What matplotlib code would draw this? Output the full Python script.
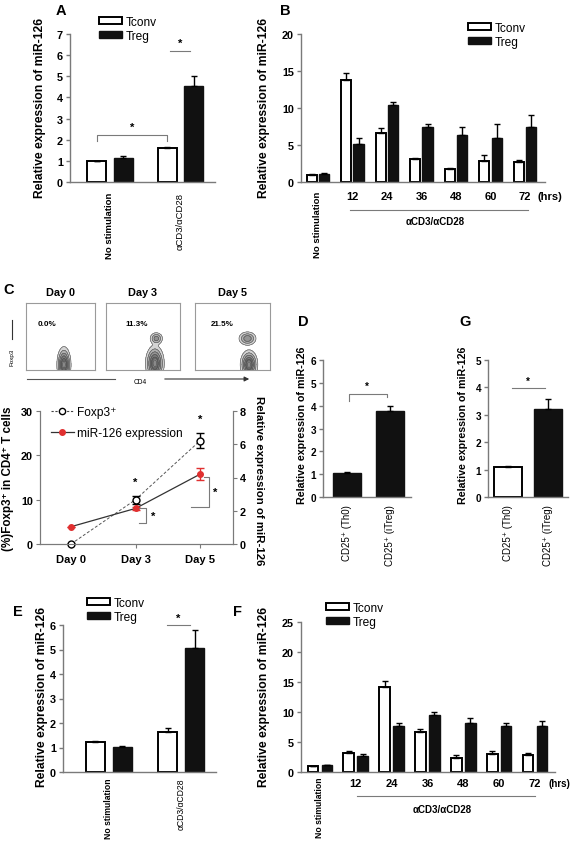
import numpy as np
import matplotlib
matplotlib.use('Agg')
import matplotlib.pyplot as plt
from matplotlib.patches import Patch, FancyArrowPatch
from matplotlib.lines import Line2D

plt.rcParams['font.family'] = ['Liberation Sans', 'DejaVu Sans']

# ---------------- data ----------------
a_groups = ['No stimulation', 'αCD3/αCD28']
a_tconv = [1.00, 1.60]
a_tconv_err = [0.0, 0.04]
a_treg = [1.15, 4.55]
a_treg_err = [0.08, 0.45]

b_hours = ['12', '24', '36', '48', '60', '72']
b_tconv = [1.0, 13.8, 6.6, 3.1, 1.7, 2.8, 2.7]
b_tconv_err = [0.05, 0.9, 0.65, 0.15, 0.15, 0.9, 0.3]
b_treg = [1.1, 5.2, 10.4, 7.5, 6.4, 6.0, 7.4]
b_treg_err = [0.05, 0.7, 0.45, 0.4, 1.1, 1.9, 1.7]

c_days = ['Day 0', 'Day 3', 'Day 5']
c_foxp3 = [0.0, 10.0, 23.3]
c_foxp3_err = [0.0, 0.9, 1.7]
c_mir = [1.04, 2.14, 4.2]
c_mir_err = [0.0, 0.1, 0.35]
c_flow_pct = ['0.0%', '11.3%', '21.5%']
# flow contour blobs: (x centre, y centre, sx, sy, amplitude) in box units
c_flow_blobs = [
    [(0.55, 0.08, 0.042, 0.11, 1.0)],
    [(0.66, 0.10, 0.052, 0.11, 1.0), (0.68, 0.47, 0.040, 0.042, 0.4)],
    [(0.72, 0.08, 0.048, 0.09, 1.0), (0.70, 0.47, 0.054, 0.047, 0.45)],
]

d_labels = ['CD25⁺ (Th0)', 'CD25⁺ (iTreg)']
d_values = [1.03, 3.75]
d_err = [0.05, 0.25]
g_values = [1.08, 3.2]
g_err = [0.06, 0.38]

e_tconv = [1.22, 1.63]
e_tconv_err = [0.04, 0.18]
e_treg = [1.02, 5.07]
e_treg_err = [0.03, 0.72]

f_tconv = [1.0, 3.2, 14.2, 6.6, 2.4, 3.05, 2.8]
f_tconv_err = [0.05, 0.25, 1.0, 0.6, 0.4, 0.45, 0.4]
f_treg = [1.1, 2.6, 7.7, 9.55, 8.15, 7.7, 7.6]
f_treg_err = [0.05, 0.4, 0.5, 0.45, 0.8, 0.45, 0.9]

YLABEL = 'Relative expression of miR-126'

# ---------------- figure ----------------
W, H = 574, 845
fig = plt.figure(figsize=(W / 100, H / 100), dpi=100)
GRAY = '#7a7a7a'
BLACK = '#111111'
TICK_FS = 7.8


def fx(x):
    return x / W


def fy(y):
    return 1 - y / H


def add_ax(x0, y0, x1, y1):
    return fig.add_axes([x0 / W, 1 - y1 / H, (x1 - x0) / W, (y1 - y0) / H])


def style(ax, ylim, yticks, fs=TICK_FS):
    ax.set_ylim(*ylim)
    ax.set_yticks(yticks, labels=[str(v) for v in yticks], fontweight='bold')
    for s in ['top', 'right']:
        ax.spines[s].set_visible(False)
    for s in ['left', 'bottom']:
        ax.spines[s].set_color(GRAY)
        ax.spines[s].set_linewidth(1.0)
    ax.tick_params(axis='y', length=3, width=1, color=GRAY, labelsize=fs, pad=2)
    ax.tick_params(axis='x', length=0)


def errbars(ax, x, v, e, color='black'):
    ax.errorbar(x, v, yerr=[np.zeros(len(v)), e], fmt='none', ecolor=color,
                elinewidth=1, capsize=2.5, capthick=1, zorder=3)


def pair_bars(ax, x, tc, tce, tr, tre, off, w):
    x = np.asarray(x, float)
    ax.bar(x - off, tc, w, color='white', edgecolor='black', lw=1.4, zorder=2)
    ax.bar(x + off, tr, w, color=BLACK, edgecolor=BLACK, lw=1.0, zorder=2)
    errbars(ax, x - off, tc, tce)
    errbars(ax, x + off, tr, tre)


def bar_legend(x, y):
    handles = [Patch(facecolor='white', edgecolor='black', lw=1.4),
               Patch(facecolor=BLACK, edgecolor=BLACK)]
    fig.legend(handles, ['Tconv', 'Treg'], loc='upper left',
               bbox_to_anchor=(fx(x), fy(y)), frameon=False, fontsize=8.6,
               handlelength=1.9, handleheight=0.5, labelspacing=0.15,
               handletextpad=0.3, borderpad=0, borderaxespad=0)


def ylab(x, y, s=YLABEL, size=8.7, rot=90):
    fig.text(fx(x), fy(y), s, rotation=rot, ha='center', va='center',
             fontweight='bold', fontsize=size)


def plabel(x, y, s):
    fig.text(fx(x), fy(y), s, ha='center', va='center', fontweight='bold', fontsize=10.5)


def bracket(ax, xs, ys):
    ax.plot(xs, ys, color=GRAY, lw=0.8, clip_on=False, zorder=4)


def star(ax, x, y, size=8):
    ax.text(x, y, '*', ha='center', va='center', fontsize=size, fontweight='bold')


# ---------------- Panel A ----------------
ax = add_ax(70, 35, 215, 183)
style(ax, (0, 7), list(range(8)))
ax.set_xlim(-0.567, 1.49)
pair_bars(ax, [0, 1], a_tconv, a_tconv_err, a_treg, a_treg_err, 0.19, 0.27)
ax.set_xticks([0, 1], labels=a_groups, rotation=90, fontsize=6.8, va='top')
ax.tick_params(axis='x', pad=7)
ax.get_xticklabels()[0].set_fontweight('bold')
bracket(ax, [-0.19, -0.19, 0.81, 0.81], [1.92, 2.23, 2.23, 1.92])
star(ax, 0.31, 2.6)
bracket(ax, [0.85, 1.13], [6.2, 6.2])
star(ax, 0.99, 6.6)
bar_legend(99, 17)
ylab(40, 108)
plabel(61, 11, 'A')


# ---------------- Panel B / F (time course) ----------------
def time_panel(box, ylim, yticks, xlim, off, w, tc, tce, tr, tre, y_tick, y_line,
               x_line, y_alpha, x_alpha, x_hrs, hrs_fs, y_nostim, nostim_fs):
    ax = add_ax(*box)
    style(ax, ylim, yticks)
    ax.set_xlim(*xlim)
    x = np.arange(len(tc))
    pair_bars(ax, x, tc, tce, tr, tre, off, w)
    ax.set_xticks([])
    tr_ = ax.get_xaxis_transform()
    for i, h in enumerate(b_hours):
        ax.text(i + 1, y_tick, h, transform=tr_, ha='center', va='center',
                fontweight='bold', fontsize=8)
    ax.text(x_hrs, y_tick, '(hrs)', transform=tr_, ha='left', va='center',
            fontweight='bold', fontsize=hrs_fs)
    ax.text(0, y_nostim, 'No stimulation', transform=tr_, ha='center', va='top',
            rotation=90, fontweight='bold', fontsize=nostim_fs)
    ax.plot(x_line, [y_line, y_line], transform=tr_, color=GRAY, lw=0.8, clip_on=False)
    ax.text(x_alpha, y_alpha, 'αCD3/αCD28', transform=tr_, ha='center', va='center',
            fontweight='bold', fontsize=7)
    return ax


time_panel((301, 35, 545, 183), (0, 20), [0, 5, 10, 15, 20], (-0.49, 6.58), 0.18, 0.30,
           b_tconv, b_tconv_err, b_treg, b_treg_err,
           -0.095, -0.19, [0.93, 6.09], -0.264, 3.39, 6.36, 8, -0.06, 6.8)
bar_legend(468, 23)
ylab(264, 108)
plabel(285, 11, 'B')

time_panel((301, 623, 555, 773), (0, 25), [0, 5, 10, 15, 20, 25], (-0.53, 6.56), 0.195, 0.30,
           f_tconv, f_tconv_err, f_treg, f_treg_err,
           -0.073, -0.16, [1.03, 6.0], -0.247, 3.4, 6.37, 7, -0.033, 6.2)
bar_legend(326, 603)
ylab(264, 697)
plabel(237, 612, 'F')

# ---------------- Panel E ----------------
ax = add_ax(63, 626, 216, 773)
style(ax, (0, 6), list(range(7)))
ax.set_xlim(-0.63, 1.48)
pair_bars(ax, [0, 1], e_tconv, e_tconv_err, e_treg, e_treg_err, 0.186, 0.26)
ax.set_xticks([0, 1], labels=a_groups, rotation=90, fontsize=6.2, va='top')
ax.tick_params(axis='x', pad=4)
ax.get_xticklabels()[0].set_fontweight('bold')
bracket(ax, [0.81, 1.12], [6.0, 6.0])
star(ax, 0.96, 6.3)
bar_legend(87, 598)
ylab(42, 697)
plabel(18, 612, 'E')

# ---------------- Panel D ----------------
ax = add_ax(323, 361, 411, 498)
style(ax, (0, 6), list(range(7)), fs=7.2)
ax.set_xlim(-0.56, 1.49)
ax.bar([0, 1], d_values, 0.65, color=BLACK, edgecolor=BLACK, zorder=2)
errbars(ax, [0, 1], d_values, d_err)
ax.set_xticks([0, 1], labels=d_labels, rotation=90, fontsize=7, va='top')
ax.tick_params(axis='x', pad=5)
bracket(ax, [0.05, 0.05, 0.93, 0.93], [4.2, 4.5, 4.5, 4.4])
star(ax, 0.47, 4.85, 7)
ylab(302, 425, size=7.7)
plabel(303, 322, 'D')

# ---------------- Panel G ----------------
ax = add_ax(488, 361, 568, 498)
style(ax, (0, 5), list(range(6)), fs=7.2)
ax.set_xlim(-0.5, 1.5)
ax.bar([0], g_values[:1], 0.7, color='white', edgecolor='black', lw=1.4, zorder=2)
ax.bar([1], g_values[1:], 0.7, color=BLACK, edgecolor=BLACK, zorder=2)
errbars(ax, [0, 1], g_values, g_err)
ax.set_xticks([0, 1], labels=d_labels, rotation=90, fontsize=7, va='top')
ax.tick_params(axis='x', pad=5)
bracket(ax, [0.1, 0.93], [3.96, 3.96])
star(ax, 0.5, 4.25, 7)
ylab(463, 425, size=7.7)
plabel(465, 322, 'G')

# ---------------- Panel C: flow plots ----------------
boxes = [(26, 304, 95, 371), (106, 304, 180, 371), (195, 304, 270, 371)]
pct_x = [0.30, 0.42, 0.36]
gx, gy = np.meshgrid(np.linspace(0, 1, 260), np.linspace(0, 1, 260))
for i, b in enumerate(boxes):
    fa = add_ax(*b)
    fa.set_xlim(0, 1)
    fa.set_ylim(0, 1)
    fa.set_xticks([])
    fa.set_yticks([])
    for s in fa.spines.values():
        s.set_color('#9a9a9a')
        s.set_linewidth(0.8)
    Z = np.zeros_like(gx)
    for (cx, cy, sx, sy, amp) in c_flow_blobs[i]:
        Z += amp * np.exp(-((gx - cx) ** 2 / (2 * sx ** 2) + (gy - cy) ** 2 / (2 * sy ** 2)))
    lv = [0.05, 0.15, 0.3, 0.5, 0.7, 0.9, 1.01]
    fa.contourf(gx, gy, Z, levels=lv,
                colors=['#d4d4d4', '#b0b0b0', '#939393', '#7a7a7a', '#686868', '#8a8a8a'])
    fa.contour(gx, gy, Z, levels=lv[:-1], colors='#4a4a4a', linewidths=0.4)
    fig.text(fx((b[0] + b[2]) / 2), fy(293), c_days[i], ha='center', va='center',
             fontweight='bold', fontsize=7.8)
    fa.text(pct_x[i], 0.69, c_flow_pct[i], transform=fa.transAxes,
            ha='center', va='center', fontweight='bold', fontsize=5.8)

fig.text(fx(12), fy(357), 'Foxp3', rotation=90, ha='center', va='center', fontsize=4.5)
fig.add_artist(Line2D([fx(12), fx(12)], [fy(340), fy(321)], color='#333', lw=0.8))
fig.add_artist(Line2D([fx(27), fx(115)], [fy(380), fy(380)], color='#555', lw=0.8))
fig.add_artist(FancyArrowPatch((fx(162), fy(380)), (fx(252), fy(380)),
                               transform=fig.transFigure, arrowstyle='-|>',
                               mutation_scale=7, color='#333', lw=0.8))
fig.text(fx(140), fy(383), 'CD4', ha='center', va='center', fontsize=4.8)
plabel(9, 290, 'C')

# ---------------- Panel C: line chart ----------------
ax = add_ax(40, 412, 233, 545)
ax.set_xlim(-0.48, 2.51)
ax.set_ylim(0, 30)
ax.set_yticks([0, 10, 20, 30], labels=['0', '10', '20', '30'], fontweight='bold')
ax.spines['top'].set_visible(False)
for s in ['left', 'bottom', 'right']:
    ax.spines[s].set_color(GRAY)
xd = np.arange(3)
ax.set_xticks(xd, labels=c_days, fontweight='bold', fontsize=8)
ax.tick_params(axis='y', length=3, color=GRAY, labelsize=TICK_FS, pad=2)
ax.tick_params(axis='x', length=3, color=GRAY, pad=4)
ax.plot(xd, c_foxp3, ls=(0, (3, 2)), color='#555', lw=0.7, zorder=2)
ax.errorbar(xd, c_foxp3, yerr=c_foxp3_err, fmt='none', ecolor='black', elinewidth=1,
            capsize=3, capthick=1, zorder=3)
ax.plot(xd, c_foxp3, 'o', mfc='white', mec='black', ms=5, mew=1, zorder=4, clip_on=False)
star(ax, 1, 14.0)
star(ax, 2, 28.3)

ax2 = ax.twinx()
ax2.set_ylim(0, 8)
ax2.set_yticks([0, 2, 4, 6, 8], labels=['0', '2', '4', '6', '8'], fontweight='bold')
ax2.tick_params(axis='y', length=3, color=GRAY, labelsize=TICK_FS, pad=2)
ax2.spines['top'].set_visible(False)
for s in ['left', 'bottom', 'right']:
    ax2.spines[s].set_color(GRAY)
ax2.plot(xd, c_mir, '-', color='#333', lw=0.9, zorder=2)
ax2.errorbar(xd, c_mir, yerr=c_mir_err, fmt='none', ecolor='#e03030', elinewidth=1,
             capsize=3, capthick=1, zorder=3)
ax2.plot(xd, c_mir, 'o', mfc='#e03030', mec='#e03030', ms=4, zorder=4)
bracket(ax2, [1.05, 1.16, 1.16, 1.05], [2.14, 2.14, 1.26, 1.26])
star(ax2, 1.28, 1.68)
bracket(ax2, [2.06, 2.14, 2.14, 1.86], [4.06, 4.06, 2.24, 2.24])
star(ax2, 2.23, 3.13)
handles = [Line2D([], [], ls=(0, (2, 1.5)), color='#444', lw=0.8, marker='o', mfc='white',
                  mec='black', ms=4.5),
           Line2D([], [], ls='-', color='#333', lw=0.9, marker='o', mfc='#e03030',
                  mec='#e03030', ms=4)]
fig.legend(handles, ['Foxp3⁺', 'miR-126 expression'], loc='upper left',
           bbox_to_anchor=(fx(51), fy(407)), frameon=False, fontsize=8.6, handlelength=1.9,
           labelspacing=0.75, handletextpad=0.3, borderpad=0, borderaxespad=0)
ylab(8, 479, '(%)Foxp3⁺ in CD4⁺ T cells', size=8.4)
ylab(259, 481, YLABEL, size=8.2, rot=270)

fig.savefig('out.png', dpi=100)
